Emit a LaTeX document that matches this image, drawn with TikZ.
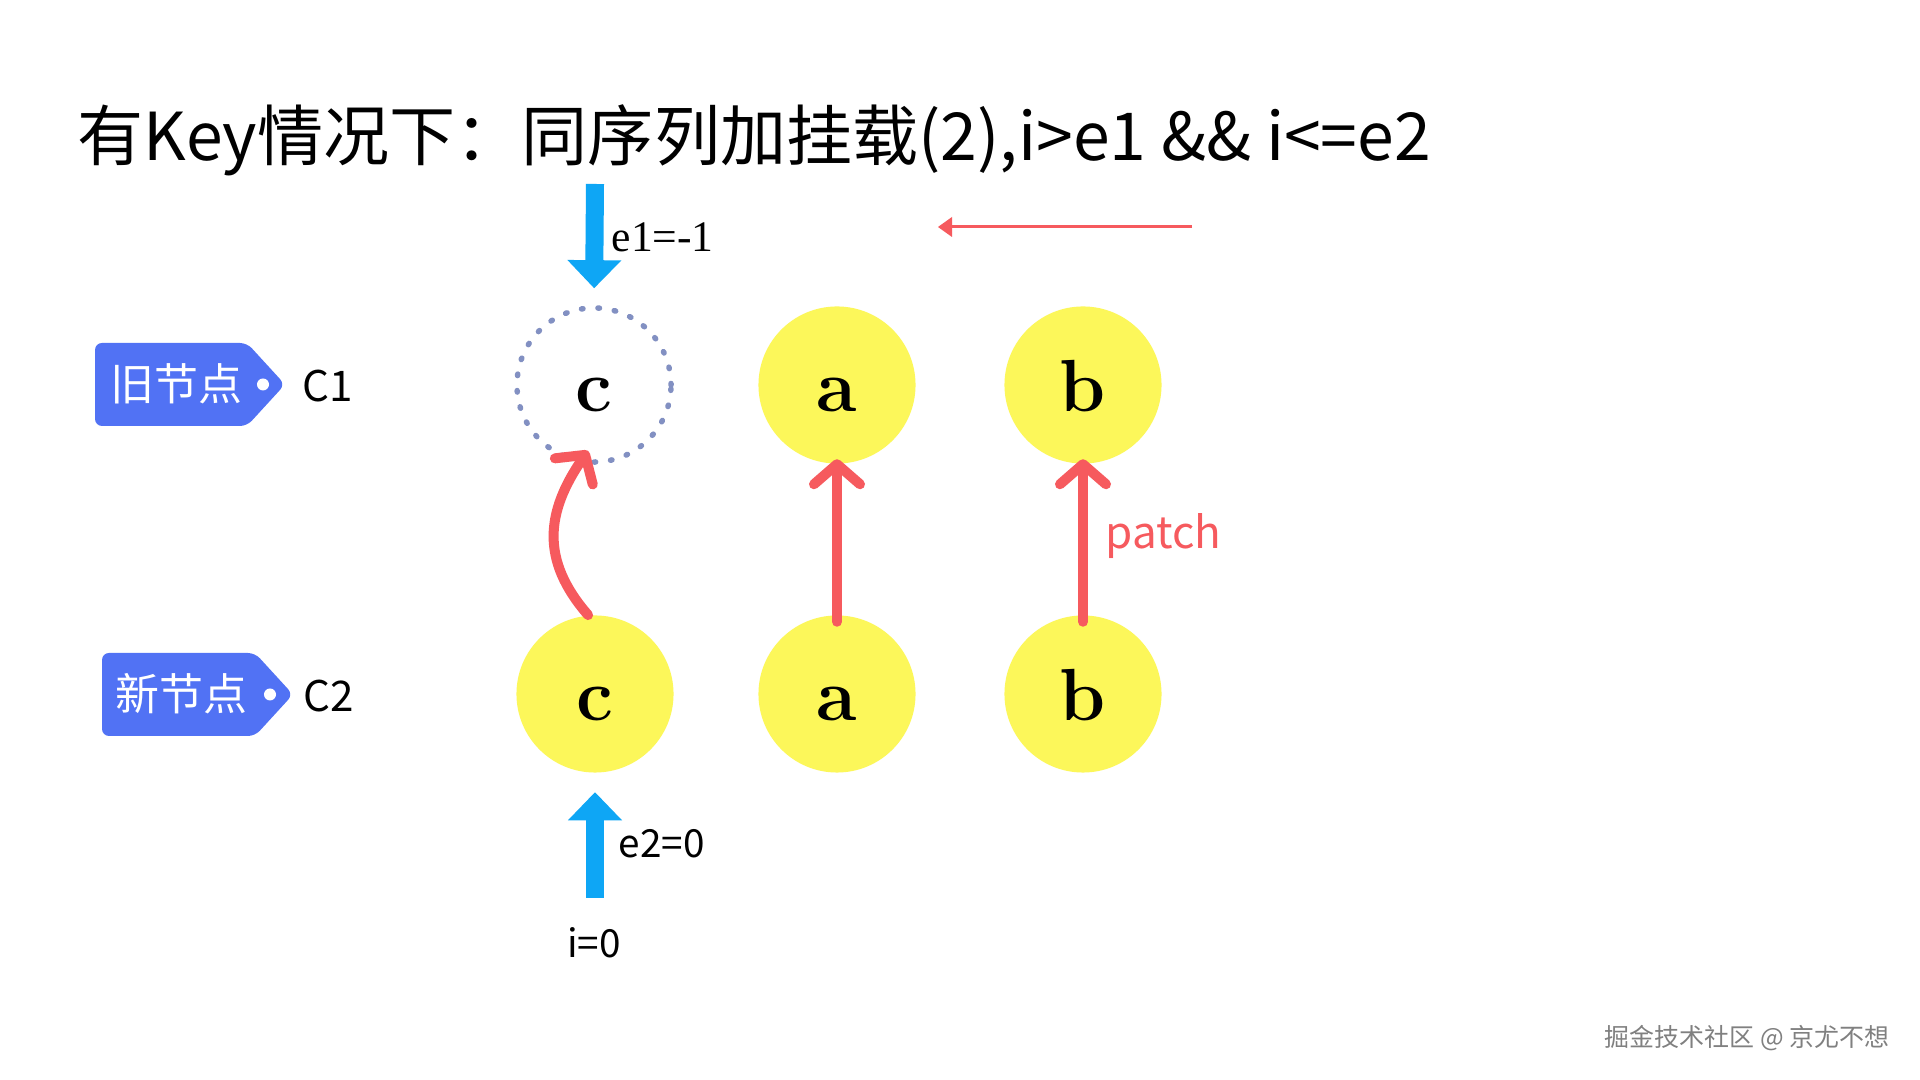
\documentclass[tikz,border=0pt]{standalone}
\usepackage{fontspec}
\newfontfamily\cjk{Noto Sans CJK SC}
\newfontfamily\lserif{Liberation Serif}
\usetikzlibrary{arrows.meta}
\definecolor{tagblue}{HTML}{5172F4}
\definecolor{arrblue}{HTML}{0EA6F5}
\definecolor{pred}{HTML}{F65A5E}
\definecolor{nyellow}{HTML}{FCF75A}
\definecolor{dotgray}{HTML}{8290C2}
\definecolor{wmgray}{HTML}{808080}
\begin{document}
\begin{tikzpicture}[x=0.01cm,y=-0.01cm,
  ball/.style={circle, fill=nyellow, minimum size=1.57cm, inner sep=0pt,
    text height=0.52cm, text depth=0pt, font=\bfseries\fontsize{21pt}{22pt}\selectfont},
  ghost/.style={circle, draw=dotgray, line width=0.055cm, dash pattern=on 0.015cm off 0.15cm,
    line cap=round, minimum size=1.54cm, inner sep=0pt,
    text height=0.52cm, text depth=0pt, font=\bfseries\fontsize{21pt}{22pt}\selectfont},
  patcharrow/.style={draw=pred, line width=0.1cm, line cap=round,
    -{Straight Barb[round, length=0.2cm, width=0.46cm]}},
  bluearrow/.style={draw=arrblue, line width=0.18cm,
    -{Triangle[length=0.28cm, width=0.54cm, line width=0pt]}},
  tagshape/.style={fill=tagblue, rounded corners=0.07cm},
  tagtext/.style={anchor=base west, text=white, inner sep=0pt, font=\cjk\fontsize{12.5pt}{14pt}\selectfont},
  sidetext/.style={anchor=base west, inner sep=0pt, font=\cjk\fontsize{12pt}{14pt}\selectfont},
  smalltext/.style={inner sep=0pt, font=\cjk\fontsize{11pt}{12pt}\selectfont}
]
\useasboundingbox (0,0) rectangle (1920,1080);
\fill[white] (0,0) rectangle (1920,1080);

% title
\node[anchor=base west, inner sep=0pt, font=\cjk\fontsize{18.8pt}{20pt}\selectfont] (title) at (77,161)
  {有Key情况下：同序列加挂载(2),i>e1 \&\& i<=e2};

% tags
\fill[tagshape] (95,343) -- (247,343) -- (285,384.5) -- (247,426) -- (95,426) -- cycle;
\fill[white] (263,384.5) circle[radius=0.06cm];
\node[tagtext] (oldtag) at (110,401) {旧节点};
\node[sidetext] (c1) at (302,402) {C1};

\fill[tagshape] (102,653) -- (255,653) -- (293,694.5) -- (255,736) -- (102,736) -- cycle;
\fill[white] (270,694.5) circle[radius=0.06cm];
\node[tagtext] (newtag) at (115,711) {新节点};
\node[sidetext] (c2) at (303,712) {C2};

% nodes
\node[ghost] (oldc) at (594,385) {c};
\node[ball] (olda) at (837,385) {a};
\node[ball] (oldb) at (1083,385) {b};
\node[ball] (newc) at (595,694) {c};
\node[ball] (newa) at (837,694) {a};
\node[ball] (newb) at (1083,694) {b};

% blue arrows
\coordinate (e1top) at (595,184);
\draw[bluearrow, shorten >=0.17cm] (e1top) -- (oldc.north);
\node[anchor=base west, inner sep=0pt, font=\lserif\fontsize{12.4pt}{13pt}\selectfont] (e1lbl) at (611,252) {e1=-1};

\coordinate (e2bot) at (595,898);
\draw[bluearrow, shorten >=0.19cm] (e2bot) -- (newc.south);
\node[smalltext, anchor=base west] (e2lbl) at (618,858) {e2=0};
\node[smalltext, anchor=base] (ilbl) at (594,958) {i=0};

% red thin arrow
\coordinate (rstart) at (1192,227);
\coordinate (rend) at (938,227);
\draw[draw=pred, line width=0.03cm, -{Triangle[length=0.14cm, width=0.2cm, line width=0pt]}] (rstart) -- (rend);

% patch arrows
\draw[patcharrow] (newc.95) .. controls +(-48,-55) and +(-42,61) .. ([shift={(-6,-14)}]oldc.south);
\draw[patcharrow, shorten <=-0.07cm, shorten >=-0.05cm] (newa.north) -- (olda.south);
\draw[patcharrow, shorten <=-0.07cm, shorten >=-0.05cm] (newb.north) -- (oldb.south);
\node[anchor=base west, inner sep=0pt, text=pred, font=\cjk\fontsize{12.5pt}{14pt}\selectfont] (patch) at (1105,549) {patch};

% watermark
\node[anchor=base east, inner sep=0pt, text=wmgray, font=\cjk\fontsize{7.1pt}{8pt}\selectfont] (wm) at (1890,1047) {掘金技术社区 @ 京尤不想};
\end{tikzpicture}
\end{document}
